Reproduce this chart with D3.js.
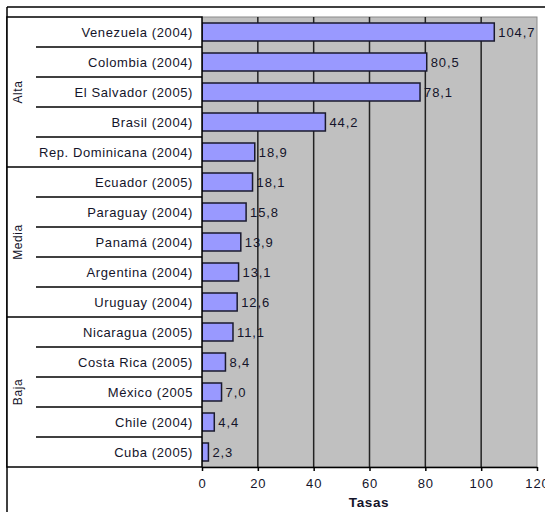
<!DOCTYPE html>
<html>
<head>
<meta charset="utf-8">
<script src="https://cdn.jsdelivr.net/npm/d3@7"></script>
<style>
  body { margin: 0; background: #fff; }
  text { font-family: 'Liberation Sans', Arial, sans-serif; }
</style>
</head>
<body>
<div class="chart"></div>
<script>
// data
const countries = [
  'Venezuela (2004)', 'Colombia (2004)', 'El Salvador (2005)', 'Brasil (2004)',
  'Rep. Dominicana (2004)', 'Ecuador (2005)', 'Paraguay (2004)', 'Panamá (2004)',
  'Argentina (2004)', 'Uruguay (2004)', 'Nicaragua (2005)', 'Costa Rica (2005)',
  'México (2005', 'Chile (2004)', 'Cuba (2005)'
];
const rates = [104.7, 80.5, 78.1, 44.2, 18.9, 18.1, 15.8, 13.9, 13.1, 12.6, 11.1, 8.4, 7.0, 4.4, 2.3];
const groups = ['Alta', 'Media', 'Baja'];
const groupSizes = [5, 5, 5];
const xTicks = [0, 20, 40, 60, 80, 100, 120];

const w = 545;
const h = 512;
const plotLeft = 202;
const plotRight = 537;
const plotTop = 17;
const plotBottom = 467;
const frameLeft = 7;
const frameTop = 7;
const subLeft = 36;
const textColor = '#14142a';

const svg = d3.select('.chart')
  .append('svg')
  .attr('width', w)
  .attr('height', h);

const xScale = d3.scaleLinear()
  .domain([0, 120])
  .range([plotLeft, plotRight]);

const yScale = d3.scaleBand()
  .domain(countries)
  .range([plotTop, plotBottom])
  .paddingInner(0.4)
  .paddingOuter(0.2);

const step = yScale.step();

// outer frame
svg.append('line')
  .attr('x1', frameLeft).attr('x2', w)
  .attr('y1', frameTop).attr('y2', frameTop)
  .attr('stroke', '#000').attr('stroke-width', 1.5);
svg.append('line')
  .attr('x1', frameLeft).attr('x2', frameLeft)
  .attr('y1', frameTop).attr('y2', h)
  .attr('stroke', '#000').attr('stroke-width', 1.5);

// plot background
svg.append('rect')
  .attr('x', plotLeft)
  .attr('y', plotTop)
  .attr('width', plotRight - plotLeft)
  .attr('height', plotBottom - plotTop)
  .attr('fill', '#c0c0c0')
  .attr('stroke', '#8a8a8a')
  .attr('stroke-width', 1);

// gridlines
svg.append('g')
  .selectAll('line')
  .data(xTicks.filter((d) => d > 0 && d < 120))
  .enter()
  .append('line')
  .attr('x1', (d) => xScale(d))
  .attr('x2', (d) => xScale(d))
  .attr('y1', plotTop)
  .attr('y2', plotBottom)
  .attr('stroke', '#222')
  .attr('stroke-width', 1.5);

// bars
svg.append('g')
  .selectAll('rect')
  .data(rates)
  .enter()
  .append('rect')
  .attr('x', xScale(0))
  .attr('y', (d, i) => yScale(countries[i]))
  .attr('width', (d) => xScale(d) - xScale(0))
  .attr('height', yScale.bandwidth())
  .attr('fill', '#9999ff')
  .attr('stroke', '#1a1a2e')
  .attr('stroke-width', 1.5);

// value labels
svg.append('g')
  .selectAll('text')
  .data(rates)
  .enter()
  .append('text')
  .attr('x', (d) => xScale(d) + 4)
  .attr('y', (d, i) => yScale(countries[i]) + yScale.bandwidth() / 2)
  .attr('dy', '0.36em')
  .style('font-size', '13px')
  .style('letter-spacing', '0.9px')
  .style('fill', textColor)
  .text((d) => d3.format('.1f')(d).replace('.', ','));

// category table
const table = svg.append('g');
table.append('rect')
  .attr('x', frameLeft)
  .attr('y', plotTop)
  .attr('width', plotLeft - frameLeft)
  .attr('height', plotBottom - plotTop)
  .attr('fill', '#fff')
  .attr('stroke', '#000')
  .attr('stroke-width', 1.5);

// separators between rows (short) and groups (long)
const groupEnds = d3.cumsum(groupSizes);
d3.range(1, countries.length).forEach((i) => {
  const isGroup = groupEnds.includes(i);
  table.append('line')
    .attr('x1', isGroup ? frameLeft : subLeft)
    .attr('x2', plotLeft)
    .attr('y1', plotTop + i * step)
    .attr('y2', plotTop + i * step)
    .attr('stroke', '#000')
    .attr('stroke-width', 1.5);
});

table.selectAll('.cat')
  .data(countries)
  .enter()
  .append('text')
  .attr('class', 'cat')
  .attr('x', 193)
  .attr('y', (d) => yScale(d) + yScale.bandwidth() / 2)
  .attr('dy', '0.36em')
  .attr('text-anchor', 'end')
  .style('font-size', '13px')
  .style('letter-spacing', '0.6px')
  .style('fill', textColor)
  .text((d) => d);

// group labels
let start = 0;
groups.forEach((g, k) => {
  const mid = plotTop + (start + groupSizes[k] / 2) * step;
  table.append('text')
    .attr('transform', `translate(22,${mid}) rotate(-90)`)
    .attr('text-anchor', 'middle')
    .style('font-size', '12px')
    .style('letter-spacing', '0.6px')
    .style('fill', textColor)
    .text(g);
  start += groupSizes[k];
});

// x axis
const xAxis = d3.axisBottom(xScale)
  .tickValues(xTicks)
  .tickSize(4)
  .tickSizeOuter(0)
  .tickPadding(8);

const xAxisG = svg.append('g')
  .attr('transform', `translate(0,${plotBottom})`)
  .call(xAxis);

xAxisG.select('.domain').attr('stroke', '#000').attr('stroke-width', 1.5);
xAxisG.selectAll('.tick line').attr('stroke', '#000').attr('stroke-width', 1.5);
xAxisG.selectAll('.tick text')
  .style('font-size', '13px')
  .style('letter-spacing', '0.9px')
  .style('font-family', "'Liberation Sans', Arial, sans-serif")
  .style('fill', textColor);

svg.append('text')
  .attr('x', 369)
  .attr('y', 507)
  .attr('text-anchor', 'middle')
  .style('font-size', '13.5px')
  .style('font-weight', 'bold')
  .style('letter-spacing', '0.6px')
  .style('fill', textColor)
  .text('Tasas');
</script>
</body>
</html>
